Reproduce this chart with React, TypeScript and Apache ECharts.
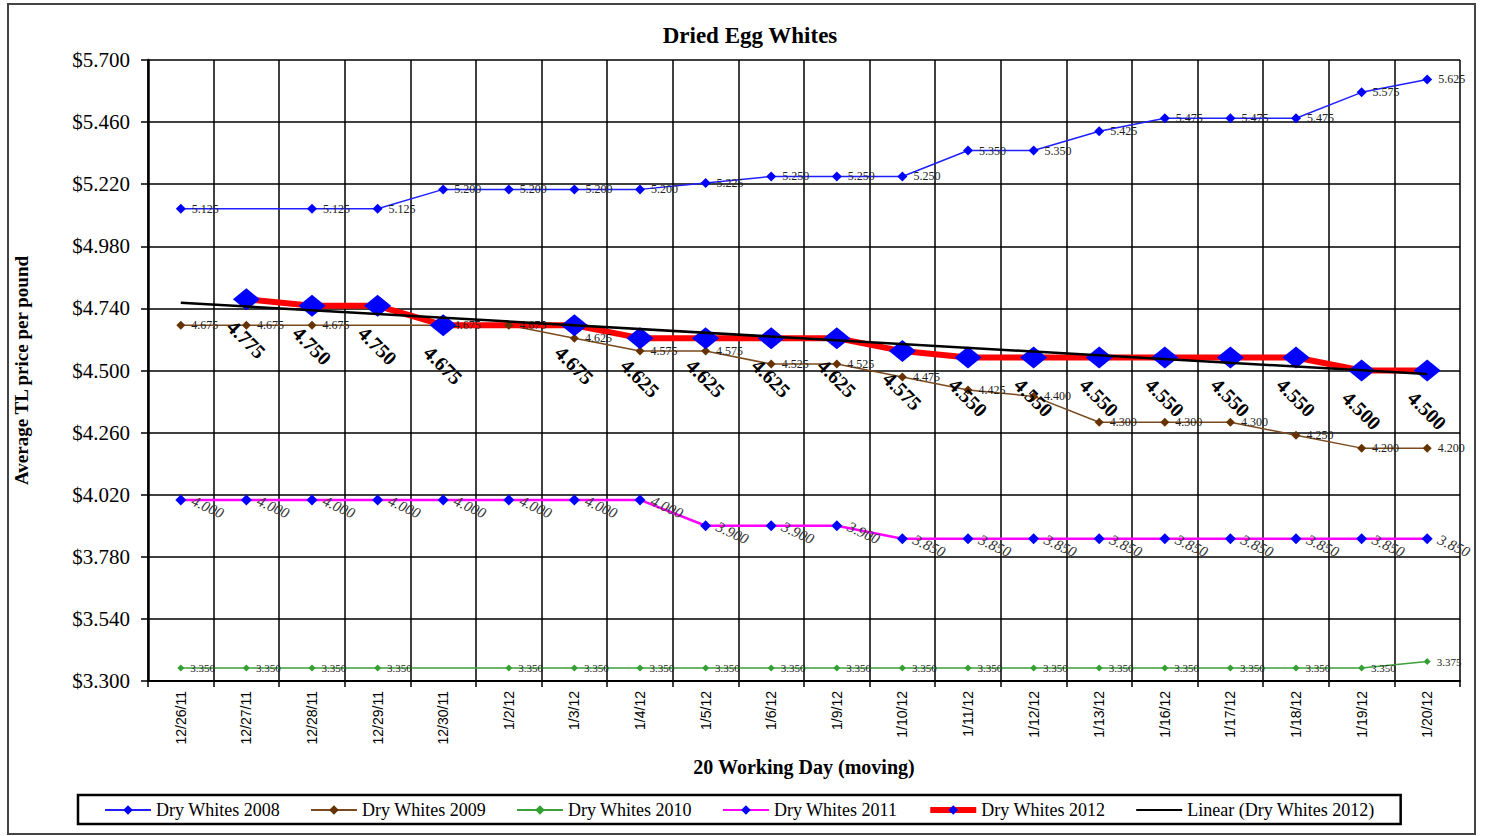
import React, { useEffect, useRef } from 'react';
import * as echarts from 'echarts';

const categories = ['12/26/11', '12/27/11', '12/28/11', '12/29/11', '12/30/11', '1/2/12', '1/3/12', '1/4/12', '1/5/12', '1/6/12', '1/9/12', '1/10/12', '1/11/12', '1/12/12', '1/13/12', '1/16/12', '1/17/12', '1/18/12', '1/19/12', '1/20/12'];
const whites2008 = [5.125, null, 5.125, 5.125, 5.2, 5.2, 5.2, 5.2, 5.225, 5.25, 5.25, 5.25, 5.35, 5.35, 5.425, 5.475, 5.475, 5.475, 5.575, 5.625];
const whites2009 = [4.675, 4.675, 4.675, null, 4.675, 4.675, 4.625, 4.575, 4.575, 4.525, 4.525, 4.475, 4.425, 4.4, 4.3, 4.3, 4.3, 4.25, 4.2, 4.2];
const whites2010 = [3.35, 3.35, 3.35, 3.35, null, 3.35, 3.35, 3.35, 3.35, 3.35, 3.35, 3.35, 3.35, 3.35, 3.35, 3.35, 3.35, 3.35, 3.35, 3.375];
const whites2011 = [4.0, 4.0, 4.0, 4.0, 4.0, 4.0, 4.0, 4.0, 3.9, 3.9, 3.9, 3.85, 3.85, 3.85, 3.85, 3.85, 3.85, 3.85, 3.85, 3.85];
const whites2012 = [null, 4.775, 4.75, 4.75, 4.675, null, 4.675, 4.625, 4.625, 4.625, 4.625, 4.575, 4.55, 4.55, 4.55, 4.55, 4.55, 4.55, 4.5, 4.5];
const trend2012 = [4.762, null, null, null, null, null, null, null, null, null, null, null, null, null, null, null, null, null, null, 4.486];

const Y_MIN = 3.3;
const Y_MAX = 5.7;
const Y_STEP = 0.24;

const SERIF = "'Liberation Serif', 'Times New Roman', serif";
const SANS = "'Liberation Sans', Arial, sans-serif";

const fmt3 = (p: any) => (p.value == null ? '' : Number(p.value).toFixed(3));

const smallLabel = {
  show: true,
  position: 'right' as const,
  distance: 6,
  fontSize: 12,
  fontFamily: SERIF,
  color: '#222',
  formatter: fmt3,
};

const ang = 45;
const off = 40;
const rad = (ang * Math.PI) / 180;

const option: any = {
  animation: false,
  backgroundColor: '#fff',
  title: {
    text: 'Dried Egg Whites',
    left: 745,
    top: 19,
    textAlign: 'center',
    textStyle: { fontFamily: SERIF, fontWeight: 'bold', fontSize: 23, color: '#000' },
  },
  graphic: [
    {
      type: 'rect',
      shape: { x: 8, y: 4, width: 1467, height: 830 },
      style: { fill: 'none', stroke: '#444', lineWidth: 2 },
      silent: true,
    },
  ],
  grid: { left: 148, top: 60, width: 1312, height: 621, containLabel: false },
  legend: {
    left: 78,
    top: 795,
    padding: [6, 26, 5, 26],
    itemGap: 30,
    itemWidth: 46,
    itemHeight: 12,
    borderColor: '#000',
    borderWidth: 2.5,
    textStyle: { fontFamily: SERIF, fontSize: 18, color: '#000' },
    data: [
      { name: 'Dry Whites 2008' },
      { name: 'Dry Whites 2009' },
      { name: 'Dry Whites 2010' },
      { name: 'Dry Whites 2011' },
      { name: 'Dry Whites 2012', lineStyle: { width: 6 } },
      { name: 'Linear (Dry Whites 2012)', itemStyle: { opacity: 0 } },
    ],
  },
  xAxis: {
    type: 'category',
    data: categories,
    boundaryGap: true,
    name: '20 Working Day (moving)',
    nameLocation: 'middle',
    nameGap: 76,
    nameTextStyle: { fontFamily: SERIF, fontWeight: 'bold', fontSize: 20, color: '#000' },
    axisLine: { lineStyle: { color: '#000', width: 2 } },
    axisTick: { show: true, interval: 0, length: 6, lineStyle: { color: '#000', width: 1.5 } },
    splitLine: { show: true, interval: 0, lineStyle: { color: '#000', width: 1.5 } },
    axisLabel: { interval: 0, rotate: 90, margin: 10, fontFamily: SANS, fontSize: 14, color: '#000' },
  },
  yAxis: {
    type: 'value',
    min: Y_MIN,
    max: Y_MAX,
    interval: Y_STEP,
    name: 'Average TL price per pound',
    nameLocation: 'middle',
    nameGap: 117,
    nameTextStyle: { fontFamily: SERIF, fontWeight: 'bold', fontSize: 19, color: '#000' },
    axisLine: { show: true, lineStyle: { color: '#000', width: 2.5 } },
    axisTick: { show: true, length: 7, lineStyle: { color: '#000', width: 1.5 } },
    splitLine: { show: true, lineStyle: { color: '#000', width: 1.5 } },
    axisLabel: {
      margin: 18,
      fontFamily: SERIF,
      fontSize: 21,
      color: '#000',
      formatter: (v: number) => '$' + v.toFixed(3),
    },
  },
  series: [
    {
      name: 'Dry Whites 2008',
      type: 'line',
      data: whites2008,
      connectNulls: true,
      symbol: 'diamond',
      symbolSize: 10,
      itemStyle: { color: '#0000FF' },
      lineStyle: { color: '#2020FF', width: 1.5 },
      label: smallLabel,
    },
    {
      name: 'Dry Whites 2009',
      type: 'line',
      data: whites2009,
      connectNulls: true,
      symbol: 'diamond',
      symbolSize: 9,
      itemStyle: { color: '#663300' },
      lineStyle: { color: '#7A4A1E', width: 1.5 },
      label: smallLabel,
    },
    {
      name: 'Dry Whites 2010',
      type: 'line',
      data: whites2010,
      connectNulls: true,
      symbol: 'diamond',
      symbolSize: 7,
      itemStyle: { color: '#33A033' },
      lineStyle: { color: '#3CA03C', width: 1.5 },
      label: { ...smallLabel, fontSize: 11 },
    },
    {
      name: 'Dry Whites 2011',
      type: 'line',
      data: whites2011,
      connectNulls: true,
      symbol: 'diamond',
      symbolSize: 11,
      itemStyle: { color: '#0000FF' },
      lineStyle: { color: '#FF00FF', width: 2.5 },
      label: {
        show: true,
        position: 'right',
        distance: 6,
        rotate: -25,
        fontSize: 15,
        fontStyle: 'italic',
        fontFamily: SERIF,
        color: '#333',
        formatter: fmt3,
      },
    },
    {
      name: 'Dry Whites 2012',
      type: 'line',
      data: whites2012,
      connectNulls: true,
      symbol: 'diamond',
      symbolSize: [27, 22],
      itemStyle: { color: '#0000FF' },
      lineStyle: { color: '#FF0000', width: 6 },
      label: {
        show: true,
        position: 'inside',
        rotate: -ang,
        offset: [off * Math.sin(rad), off * Math.cos(rad)],
        fontSize: 20,
        fontWeight: 'bold',
        fontFamily: SERIF,
        color: '#000',
        formatter: fmt3,
      },
    },
    {
      name: 'Linear (Dry Whites 2012)',
      type: 'line',
      data: trend2012,
      connectNulls: true,
      symbol: 'none',
      itemStyle: { color: '#000' },
      lineStyle: { color: '#000', width: 2.5 },
      z: 5,
    },
  ],
};

export default function App() {
  const ref = useRef<HTMLDivElement>(null);
  useEffect(() => {
    const chart = echarts.init(ref.current!, null, { renderer: 'svg' });
    chart.setOption(option);
    return () => chart.dispose();
  }, []);
  return (
    <div
      ref={ref}
      style={{ position: 'absolute', left: 0, top: 0, width: 1486, height: 836, background: '#fff' }}
    />
  );
}
